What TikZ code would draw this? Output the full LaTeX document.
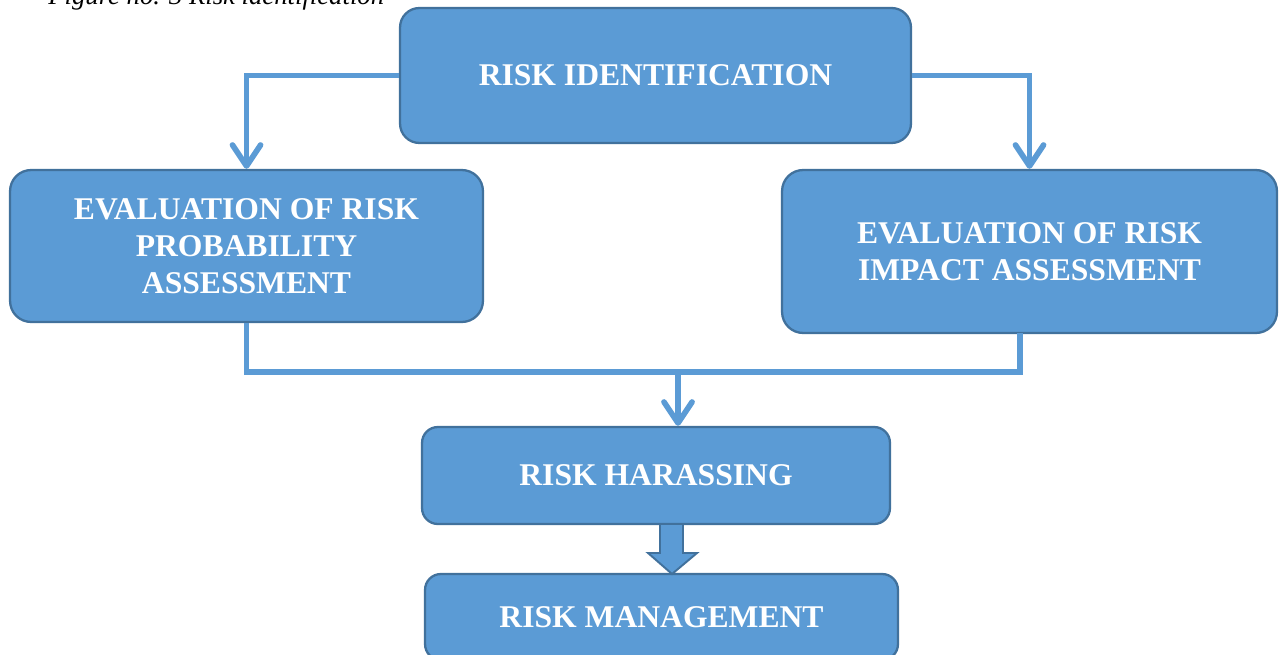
\documentclass[tikz,border=0pt]{standalone}
\usepackage{fontspec}
\setmainfont{Liberation Serif}
\usetikzlibrary{arrows.meta}
\definecolor{boxfill}{HTML}{5B9BD5}
\definecolor{boxline}{HTML}{41719C}
\tikzset{
  box/.style={draw=boxline, line width=1.3pt, fill=boxfill, text=white,
    font=\bfseries\fontsize{18}{21}\selectfont, align=center, inner sep=0pt},
  conn/.style={draw=boxfill, line width=2.9pt},
  connarrow/.style={conn, -{Straight Barb[length=12pt,width=16pt,line width=3.2pt,round]}},
  blockarrow/.style={draw=boxline, line width=1.1pt, fill=boxfill, line join=miter}
}
\begin{document}
\begin{tikzpicture}[x=0.02cm, y=-0.02cm]
\useasboundingbox (0,0) rectangle (1280,655);
\fill[white] (0,0) rectangle (1280,655);
% caption (partly cut off at top, as in the reference)
\node[anchor=base west, inner sep=0pt, font=\itshape\fontsize{15.2}{18}\selectfont] (cap) at (48,4.5) {Figure no. 3 Risk identification};
% boxes
\node[box, rounded corners=11pt, minimum width=10.22cm, minimum height=2.70cm] (top) at (655.5,75.5) {RISK IDENTIFICATION};
\node[box, rounded corners=12pt, minimum width=9.46cm, minimum height=3.04cm] (left) at (246.5,246) {EVALUATION OF RISK\\PROBABILITY\\ASSESSMENT};
\node[box, rounded corners=12pt, minimum width=9.90cm, minimum height=3.26cm] (right) at (1029.5,251.5) {EVALUATION OF RISK\\IMPACT ASSESSMENT};
\node[box, rounded corners=9pt, minimum width=9.36cm, minimum height=1.94cm] (harass) at (656,475.5) {RISK HARASSING};
\node[box, rounded corners=9pt, minimum width=9.46cm, minimum height=1.72cm] (manage) at (661.5,617) {RISK MANAGEMENT};
% connectors
\draw[connarrow] (top.west) -| (left.north);
\draw[connarrow] (top.east) -| (right.north);
\coordinate (j) at (678,372);
\coordinate (rb) at (1020,333);
\draw[conn] (left.south) |- (j);
\draw[conn] (rb) |- (j);
\draw[connarrow] ([yshift=1.4pt]j) -- (harass.north -| j);
% block arrow
\draw[blockarrow] (660,524) -- (683,524) -- (683,553) -- (697,553) -- (672,574) -- (648,553) -- (660,553) -- cycle;
\end{tikzpicture}
\end{document}
